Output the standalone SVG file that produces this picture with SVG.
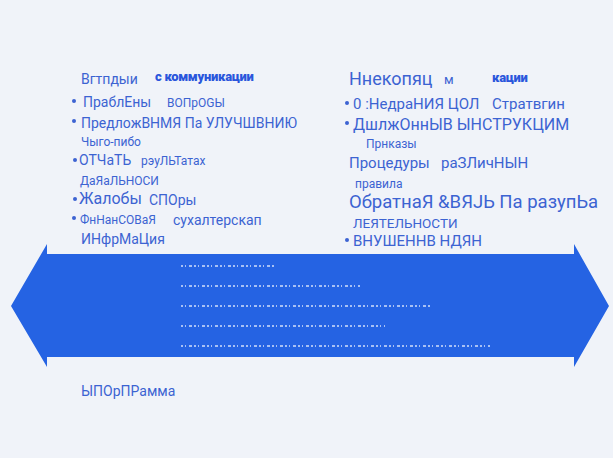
<svg xmlns="http://www.w3.org/2000/svg" width="613" height="458" viewBox="0 0 613 458">
<style>
text{font-family:Roboto,"Noto Sans","Liberation Sans",sans-serif;fill:#3c63d2}
.b{fill:#2a56dc;font-weight:900;letter-spacing:-0.3px}
.s12{font-size:12px}.s13{font-size:13px}.s14{font-size:14px}.s15{font-size:15px}.s16{font-size:16px}.s18{font-size:18px}.s19{font-size:18.5px}.s135{font-size:13.5px}
.dot{fill:#3c63d2}
.noise{stroke:#ffffff;stroke-width:1.5;stroke-dasharray:2 2 1 3 3 2;opacity:0.8;fill:none}
</style>
<rect width="613" height="458" fill="#f0f3f9"/>
<g id="connectors">
<polygon id="arrow" points="11,306 47,244 47,254 574,254 574,244 609,306 574,367 574,357 47,357 47,367" fill="#2563e3"/>
<g id="arrow-text">
<path class="noise" d="M181,266 H275"/>
<path class="noise" d="M181,286 H360"/>
<path class="noise" d="M181,306 H432"/>
<path class="noise" d="M181,326 H385"/>
<path class="noise" d="M181,346 H490"/>
</g>
</g>
<g id="left-column">
<text x="81" y="84" class="s14">Вгтпдыи</text>
<text x="155" y="81" class="s13 b">с коммуникации</text>
<circle class="dot" cx="74" cy="101" r="2"/>
<text x="83" y="107" class="s14">ПраблЕны</text>
<text x="167" y="107" class="s12">ВОПрОGЫ</text>
<circle class="dot" cx="74" cy="121" r="2"/>
<text x="81" y="128" class="s14">ПредложВНМЯ Па УЛУЧШВНИЮ</text>
<text x="81" y="146" class="s12">Чыго-пибо</text>
<circle class="dot" cx="75" cy="160" r="2"/>
<text x="79" y="165" class="s14">ОТЧаТЬ</text>
<text x="141" y="165" class="s12">рэуЛЬТатах</text>
<text x="80" y="185" class="s12">ДаЯаЛЬНОСИ</text>
<circle class="dot" cx="75" cy="199" r="2"/>
<text x="79" y="204" class="s16">Жалобы</text>
<text x="149" y="205" class="s14">СПОры</text>
<circle class="dot" cx="74" cy="218" r="2"/>
<text x="80" y="224" class="s12">ФнНанСОВаЯ</text>
<text x="173" y="225" class="s14">сухалтерскап</text>
<text x="81" y="244" class="s14">ИНфрМаЦия</text>
</g>
<g id="right-column">
<text x="349" y="85" class="s18">Ннекопяц</text>
<text x="444" y="84" class="s13">м</text>
<text x="492" y="82" class="s13 b">кации</text>
<circle class="dot" cx="347" cy="103" r="2"/>
<text x="353" y="109" class="s15">0 :НедраНИЯ ЦОЛ</text>
<text x="492" y="109" class="s15">Стратвгин</text>
<circle class="dot" cx="347" cy="123" r="2"/>
<text x="353" y="130" class="s16">ДшлжОннЫВ ЫНСТРУКЦИМ</text>
<text x="366" y="148" class="s12">Прнказы</text>
<text x="349" y="168" class="s15">Процедуры</text>
<text x="441" y="168" class="s15">раЗЛичНЫН</text>
<text x="355" y="188" class="s12">правила</text>
<text x="349" y="208" class="s19">ОбратнаЯ &amp;ВЯЈЬ Па разупЬа</text>
<text x="353" y="228" class="s135">ЛЕЯТЕЛЬНОСТИ</text>
<circle class="dot" cx="347" cy="240" r="2"/>
<text x="353" y="246" class="s15">ВНУШЕННВ НДЯН</text>
</g>
<g id="footer">
<text x="81" y="396" class="s14">ЫПОрПРамма</text>
</g>
</svg>
